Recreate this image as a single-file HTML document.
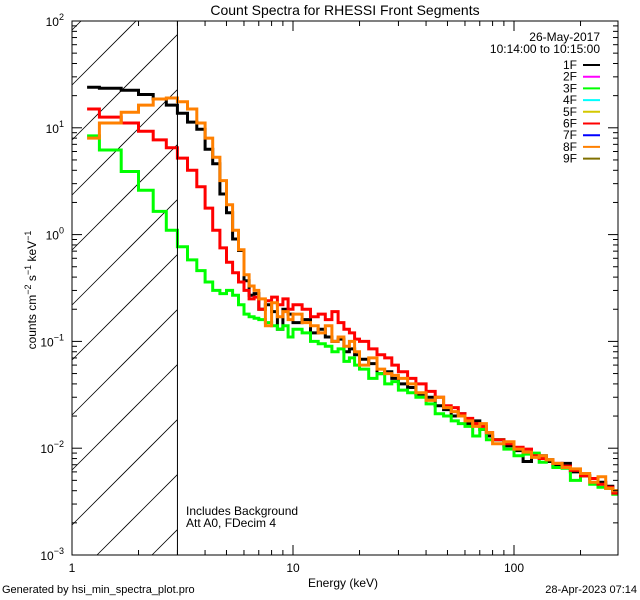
<!DOCTYPE html>
<html><head><meta charset="utf-8"><style>
html,body{margin:0;padding:0;width:640px;height:600px;overflow:hidden;background:#fff}
svg{display:block;font-family:"Liberation Sans",sans-serif}
</style></head><body>
<svg id="c" width="640" height="600" viewBox="0 0 640 600">
<defs><clipPath id="pc"><rect x="72" y="21" width="546" height="534"/></clipPath></defs>
<rect width="640" height="600" fill="#fff"/>
<text x="345" y="15" font-size="14" text-anchor="middle">Count Spectra for RHESSI Front Segments</text>
<g id="hatch"></g>
<g id="series" clip-path="url(#pc)"></g>
<g id="axes"></g>
<text x="186" y="515" font-size="12">Includes Background</text>
<text x="186" y="527" font-size="12">Att A0, FDecim 4</text>
<text x="600" y="41" font-size="12" text-anchor="end">26-May-2017</text>
<text x="600" y="53" font-size="12" text-anchor="end">10:14:00 to 10:15:00</text>
<g id="legend"></g>
<text x="343" y="587" font-size="12" text-anchor="middle">Energy (keV)</text>
<text transform="translate(36,290) rotate(-90)" font-size="12" text-anchor="middle">counts cm<tspan baseline-shift="super" font-size="9">−2</tspan> s<tspan baseline-shift="super" font-size="9">−1</tspan> keV<tspan baseline-shift="super" font-size="9">−1</tspan></text>
<text x="2" y="593" font-size="11">Generated by hsi_min_spectra_plot.pro</text>
<text x="637" y="593" font-size="11" text-anchor="end">28-Apr-2023 07:14</text>
</svg>
<script>
const edges=[1.17,1.33,1.67,2.0,2.33,2.67,3.0,3.33,3.67,4.0,4.33,4.67,5.0,5.33,5.67,6.0,6.33,6.67,7,7.5,8,8.5,9,9.5,10,11,12,13,14,15,16,17,18,19,20,22,24,26,28,30,33,36,40,44,48,52,56,60,65,70,75,80,90,100,110,120,130,140,150,165,180,200,220,240,260,280,295];
const black=[24,23.5,22.5,20.5,18.6,16.3,13.7,11.3,9.7,6.3,4.6,2.4,1.6,0.91,0.71,0.37,0.27,0.28,
0.2,0.22,0.19,0.13,0.2,0.18,0.15,0.16,0.12,0.13,0.11,0.1,0.105,0.08,0.085,0.075,0.068,0.062,0.05,0.052,0.045,0.04,0.037,0.032,0.03,0.025,0.023,0.02,0.021,0.017,0.018,0.015,0.013,0.012,0.0105,0.0095,0.0075,0.0088,0.0085,0.0075,0.0068,0.0072,0.006,0.0055,0.0052,0.0048,0.0044,0.004];
const green=[8.4,6.2,3.9,2.6,1.65,1.1,0.77,0.58,0.46,0.36,0.30,0.28,0.30,0.27,0.22,0.18,0.17,0.165,
0.16,0.15,0.14,0.13,0.14,0.11,0.13,0.12,0.1,0.095,0.09,0.08,0.085,0.065,0.07,0.06,0.055,0.045,0.05,0.04,0.042,0.035,0.033,0.03,0.026,0.021,0.02,0.018,0.017,0.016,0.013,0.015,0.012,0.012,0.0098,0.0085,0.0088,0.009,0.0074,0.0078,0.0066,0.0065,0.005,0.0055,0.0046,0.0043,0.0042,0.0037];
const red=[15,12.6,11.1,9.3,7.7,6.5,5.2,4.0,2.8,1.77,1.1,0.75,0.55,0.44,0.36,0.3,0.25,0.26,
0.2,0.24,0.26,0.22,0.25,0.2,0.22,0.2,0.17,0.18,0.16,0.19,0.15,0.13,0.12,0.105,0.1,0.085,0.075,0.07,0.06,0.052,0.045,0.04,0.034,0.03,0.025,0.024,0.021,0.019,0.017,0.016,0.014,0.012,0.011,0.0102,0.0098,0.0085,0.008,0.0078,0.0072,0.0068,0.0062,0.0055,0.0052,0.0046,0.0043,0.0038];
const orange=[8.0,11.1,14,16.3,18.6,19,17.5,15,11.1,8.0,5.3,3.2,1.9,1.1,0.72,0.42,0.33,0.3,
0.25,0.14,0.23,0.17,0.19,0.16,0.18,0.15,0.14,0.12,0.14,0.1,0.11,0.09,0.1,0.08,0.06,0.07,0.055,0.05,0.048,0.045,0.04,0.033,0.028,0.03,0.024,0.022,0.02,0.018,0.016,0.017,0.014,0.011,0.0115,0.0098,0.0092,0.0082,0.0085,0.0078,0.0072,0.0066,0.0064,0.0058,0.0048,0.0054,0.0042,0.004];
const legendLabels=["1F","2F","3F","4F","5F","6F","7F","8F","9F"];
const legendColors=["#000","#ff00ff","#00ff00","#00ffff","#d4c800","#ff0000","#0000ff","#ff8000","#807000"];
const yTickExps=[-3,-2,-1,0,1,2];
const xTickLabels=[1,10,100];

const NS="http://www.w3.org/2000/svg";
const X0=72,X1=618,Y0=21,Y1=555,XD=221,YD=106.8;
const sx=e=>X0+Math.log10(e)*XD;
const sy=v=>Y0+(2-Math.log10(v))*YD;
function mk(tag,attrs,parent){const e=document.createElementNS(NS,tag);for(const k in attrs)e.setAttribute(k,attrs[k]);parent.appendChild(e);return e;}
const svg=document.getElementById('c');

const hg=document.getElementById('hatch');
const HX1=sx(3);
for(let c=-300;c<700;c+=55){
  // line y = c - (x - X0), clipped to [X0,HX1] x [Y0,Y1]
  let xa=Math.max(X0, X0 + c - Y1), xb=Math.min(HX1, X0 + c - Y0);
  if(xb<=xa) continue;
  const l=mk('line',{x1:xa,y1:c-(xa-X0),x2:xb,y2:c-(xb-X0),stroke:'#000','stroke-width':0.8},hg);
  
  
}
const vl=mk('line',{x1:HX1,y1:Y0,x2:HX1,y2:Y1,stroke:'#000','stroke-width':1},svg);



const sg=document.getElementById('series');
function drawSeries(vals,color,name){
  let d='';
  for(let i=0;i<vals.length;i++){
    const xa=sx(edges[i]),xb=Math.min(X1,sx(edges[i+1])),y=sy(vals[i]);
    d+=(i===0?'M':'L')+xa.toFixed(1)+','+y.toFixed(1)+'L'+xb.toFixed(1)+','+y.toFixed(1);
  }
  const p=mk('path',{d:d,fill:'none',stroke:color,'stroke-width':3,'stroke-linejoin':'miter'},sg);
  
  
}
drawSeries(black,'#000','series-1f');
drawSeries(green,'#00ff00','series-3f');
drawSeries(red,'#ff0000','series-6f');
drawSeries(orange,'#ff8000','series-8f');

const ag=document.getElementById('axes');
const fr=mk('rect',{x:X0,y:Y0,width:X1-X0,height:Y1-Y0,fill:'none',stroke:'#000','stroke-width':1},ag);


for(const ex of yTickExps){
  for(let m=1;m<10;m++){
    const v=m*Math.pow(10,ex); if(v>100.01)break;
    const y=sy(v), len=m===1?10:5;
    mk('line',{x1:X0,y1:y,x2:X0+len,y2:y,stroke:'#000'},ag);
    mk('line',{x1:X1,y1:y,x2:X1-len,y2:y,stroke:'#000'},ag);
  }
  const t=mk('text',{x:64,y:sy(Math.pow(10,ex))+5,'font-size':12,'text-anchor':'end'},ag);
  
  
  t.textContent='10';
  const s=mk('tspan',{dy:-6,'font-size':9},t); s.textContent=ex<0?'−'+(-ex):String(ex);
}
for(let ex=0;ex<3;ex++){
  for(let m=1;m<10;m++){
    const e=m*Math.pow(10,ex); const x=sx(e); if(x>X1+0.5)break;
    const len=m===1?10:5;
    mk('line',{x1:x,y1:Y1,x2:x,y2:Y1-len,stroke:'#000'},ag);
    mk('line',{x1:x,y1:Y0,x2:x,y2:Y0+len,stroke:'#000'},ag);
  }
}
for(const v of xTickLabels){
  const t=mk('text',{x:sx(v),y:572,'font-size':12,'text-anchor':'middle'},ag);
  
  
  t.textContent=String(v);
}
const lg=document.getElementById('legend');
legendLabels.forEach((lab,i)=>{
  const y=65+i*11.7;
  const t=mk('text',{x:577,y:y+4,'font-size':12,'text-anchor':'end'},lg);
  
  
  t.textContent=lab;
  const l=mk('line',{x1:583,y1:y,x2:600,y2:y,stroke:legendColors[i],'stroke-width':2},lg);
  
  
});
</script>
</body></html>
